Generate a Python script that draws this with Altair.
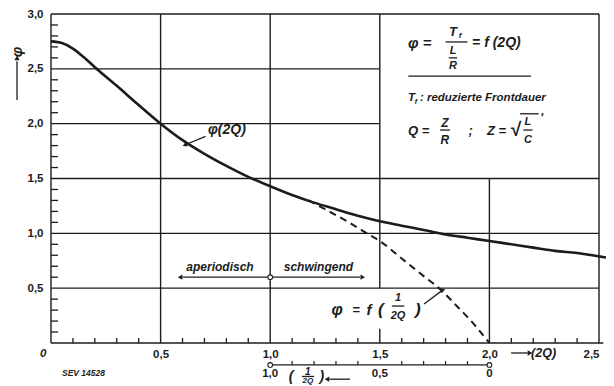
import altair as alt
import pandas as pd

DARK = "#1c1c1c"
FONT = "Liberation Sans"

# ---- data ----
q2_x = [0, 0.05, 0.1, 0.15, 0.2, 0.3, 0.4, 0.5, 0.6, 0.7, 0.8, 0.9, 1.0, 1.1, 1.2,
        1.3, 1.4, 1.5, 1.6, 1.7, 1.8, 1.9, 2.0, 2.1, 2.2, 2.3, 2.4, 2.5, 2.56]
phi_y = [2.75, 2.735, 2.685, 2.605, 2.515, 2.345, 2.17, 2.0, 1.85, 1.725, 1.615, 1.515, 1.43,
         1.35, 1.28, 1.22, 1.16, 1.11, 1.07, 1.03, 0.99, 0.96, 0.93, 0.90, 0.87, 0.84,
         0.82, 0.79, 0.77]

dash_x = [1.175, 1.25, 1.35, 1.45, 1.5, 1.6, 1.7, 1.77, 1.85, 1.93, 2.0]
dash_y = [1.30, 1.22, 1.11, 0.99, 0.93, 0.77, 0.61, 0.50, 0.34, 0.17, 0.0]

x_labels = [0.5, 1.0, 1.5, 2.0, 2.5]
y_labels = [0.5, 1.0, 1.5, 2.0, 2.5, 3.0]
x_minor = [round(i * 0.1, 1) for i in range(1, 25) if i % 5]
y_minor = [round(i * 0.1, 1) for i in range(1, 30) if i % 5]
sec_minor = [1.1, 1.2, 1.3, 1.4, 1.6, 1.7, 1.8, 1.9]
sec_labels = ["1,0", "0,5", "0"]
sec_label_x = [1.0, 1.5, 2.0]

# grid segments (x, x2, y, y2)
grid_x = [0, 0.5, 1.0, 1.5, 1.5, 2.0, 2.5, 0, 0, 0, 0, 0, 0, 0]
grid_x2 = [0, 0.5, 1.0, 1.5, 1.5, 2.0, 2.5, 2.52, 2.5, 2.5, 2.5, 1.5, 1.5, 2.5]
grid_y = [0, 0, 0, 0.5, 0, 0, 0, 0, 0.5, 1.0, 1.5, 2.0, 2.5, 3.0]
grid_y2 = [3, 3, 3, 3, 0.13, 1.5, 3, 0, 0.5, 1.0, 1.5, 2.0, 2.5, 3.0]

# centred texts
tc_text = ["φ", "aperiodisch", "schwingend", "T", "L", "R", "Z", "R", "√", "L", "C",
           "φ", "=", "f", "(", "1", "2Q", ")", "0", "(", "1", ")", "2Q", "f"]
tc_x = [-0.155, 0.771, 1.22, 1.834, 1.834, 1.834, 1.797, 1.797, 2.117, 2.176, 2.176,
        1.305, 1.392, 1.451, 1.505, 1.583, 1.583, 1.674, -0.036, 1.095, 1.172, 1.236, 1.172, 1.866]
tc_y = [2.653, 0.693, 0.693, 2.836, 2.665, 2.526, 2.006, 1.851, 1.94, 2.015, 1.851,
        0.30, 0.30, 0.30, 0.30, 0.41, 0.246, 0.30, -0.10, -0.31, -0.262, -0.31, -0.345, 2.80]
tc_size = [15, 12, 12, 13, 11, 11, 12, 12, 19, 11, 11,
           16, 13, 15, 17, 11, 11, 17, 11.5, 14, 10, 14, 8, 8]
tc_angle = [270] + [0] * 23

# left aligned texts
tl_text = ["φ  =", "=  f (2Q)", "T", "f", ": reduzierte Frontdauer", "Q  =", ";", "Z  =", "'",
           "φ(2Q)", "(2Q)", "SEV 14528"]
tl_x = [1.629, 1.921, 1.629, 1.66, 1.683, 1.629, 1.905, 1.989, 2.232, 0.716, 2.19, 0.05]
tl_y = [2.735, 2.735, 2.234, 2.20, 2.234, 1.933, 1.933, 1.933, 2.05, 1.942, -0.091, -0.27]
tl_size = [15, 14, 11.5, 7, 11.5, 13, 13, 13, 12, 14, 12.5, 8.5]

# thin lines: fraction bars, separator, arrow shafts, secondary axis
ln_x = [1.80, 1.815, 1.63, 1.775, 2.155, 2.14, 1.555, 1.145,
        0.60, 1.0, 0.705, 1.702, 2.099, 1.364, 1.0, -0.155]
ln_x2 = [1.90, 1.853, 2.19, 1.82, 2.197, 2.225, 1.612, 1.200,
         1.0, 1.41, 0.615, 1.785, 2.175, 1.27, 2.0, -0.155]
ln_y = [2.745, 2.60, 2.434, 1.942, 1.942, 2.09, 0.337, -0.305,
        0.6, 0.6, 1.885, 0.356, -0.091, -0.33, -0.2, 2.216]
ln_y2 = [2.745, 2.60, 2.434, 1.942, 1.942, 2.09, 0.337, -0.305,
         0.6, 0.6, 1.81, 0.48, -0.091, -0.33, -0.2, 2.57]

# arrow heads
ah_x = [0.589, 1.422, -0.155, 0.61, 1.788, 2.185, 1.259]
ah_y = [0.6, 0.6, 2.60, 1.805, 0.483, -0.091, -0.33]
ah_angle = [270, 90, 0, 247, 72, 90, 270]

circ_x = [1.0, 2.0, 1.0]
circ_y = [-0.2, -0.2, 0.6]

# ---- build chart ----
xs = alt.Scale(domain=[0, 2.5], nice=False, zero=False)
ys = alt.Scale(domain=[0, 3], nice=False, zero=False)

lab = "replace(format(datum.value, '.1f'), '.', ',')"
x_axis = alt.Axis(values=x_labels, labelExpr=lab, ticks=False, domain=False, grid=False,
                  labelPadding=5, labelFontSize=11.5, labelFont=FONT, labelFontWeight="bold",
                  labelColor=DARK, title=None)
y_axis = alt.Axis(values=y_labels, labelExpr=lab, ticks=False, domain=False, grid=False,
                  labelPadding=8, labelFontSize=11.5, labelFont=FONT, labelFontWeight="bold",
                  labelColor=DARK, title=None)


def X(f):
    return alt.X(f, type="quantitative", scale=xs, axis=x_axis)


def Y(f):
    return alt.Y(f, type="quantitative", scale=ys, axis=y_axis)


grid_df = pd.DataFrame({"x": grid_x, "x2": grid_x2, "y": grid_y, "y2": grid_y2})
grid = alt.Chart(grid_df).mark_rule(color=DARK, strokeWidth=1.4).encode(
    x=X("x"), x2="x2", y=Y("y"), y2="y2")

xt_df = pd.DataFrame({"x": x_minor, "y": [0] * len(x_minor), "y2": [0.045] * len(x_minor)})
xticks = alt.Chart(xt_df).mark_rule(color=DARK, strokeWidth=1.3).encode(
    x=X("x"), y=Y("y"), y2="y2")

yt_df = pd.DataFrame({"y": y_minor, "x": [0] * len(y_minor), "x2": [0.032] * len(y_minor)})
yticks = alt.Chart(yt_df).mark_rule(color=DARK, strokeWidth=1.3).encode(
    x=X("x"), x2="x2", y=Y("y"))

st_df = pd.DataFrame({"x": sec_minor, "y": [-0.2] * len(sec_minor), "y2": [-0.165] * len(sec_minor)})
sticks = alt.Chart(st_df).mark_rule(color=DARK, strokeWidth=1.2).encode(
    x=X("x"), y=Y("y"), y2="y2")

curve = alt.Chart(pd.DataFrame({"x": q2_x, "y": phi_y})).mark_line(
    color=DARK, strokeWidth=2.6, interpolate="monotone", clip=False).encode(
    x=X("x"), y=Y("y"))

dashed = alt.Chart(pd.DataFrame({"x": dash_x, "y": dash_y})).mark_line(
    color=DARK, strokeWidth=2.0, strokeDash=[7, 5], interpolate="monotone").encode(
    x=X("x"), y=Y("y"))

ln_df = pd.DataFrame({"x": ln_x, "x2": ln_x2, "y": ln_y, "y2": ln_y2})
lines = alt.Chart(ln_df).mark_rule(color=DARK, strokeWidth=1.3).encode(
    x=X("x"), x2="x2", y=Y("y"), y2="y2")

ah_df = pd.DataFrame({"x": ah_x, "y": ah_y, "a": ah_angle})
heads = alt.Chart(ah_df).mark_point(shape="triangle-up", filled=True, color=DARK,
                                    size=28, opacity=1).encode(
    x=X("x"), y=Y("y"), angle=alt.Angle("a:Q", scale=None))

circ_df = pd.DataFrame({"x": circ_x, "y": circ_y})
circles = alt.Chart(circ_df).mark_point(shape="circle", filled=True, fill="white",
                                        stroke=DARK, strokeWidth=1.1, size=22, opacity=1).encode(
    x=X("x"), y=Y("y"))

tc_df = pd.DataFrame({"x": tc_x, "y": tc_y, "t": tc_text, "s": tc_size, "a": tc_angle})
tcent = alt.Chart(tc_df).mark_text(font=FONT, fontWeight="bold", fontStyle="italic",
                                   color=DARK, align="center", baseline="middle").encode(
    x=X("x"), y=Y("y"), text="t:N",
    size=alt.Size("s:Q", scale=None), angle=alt.Angle("a:Q", scale=None))

tl_df = pd.DataFrame({"x": tl_x, "y": tl_y, "t": tl_text, "s": tl_size})
tleft = alt.Chart(tl_df).mark_text(font=FONT, fontWeight="bold", fontStyle="italic",
                                   color=DARK, align="left", baseline="middle").encode(
    x=X("x"), y=Y("y"), text="t:N",
    size=alt.Size("s:Q", scale=None))

sl_df = pd.DataFrame({"x": sec_label_x, "y": [-0.28] * 3, "t": sec_labels})
slabels = alt.Chart(sl_df).mark_text(font=FONT, fontWeight="bold", color=DARK,
                                     fontSize=11.5, align="center", baseline="middle").encode(
    x=X("x"), y=Y("y"), text="t:N")

chart = alt.layer(grid, xticks, yticks, sticks, curve, dashed, lines, heads,
                  tcent, tleft, slabels, circles).properties(
    width=548, height=329,
    padding={"left": 43, "top": 6, "right": 7, "bottom": 43},
    autosize=alt.AutoSizeParams(type="none"),
    background="white",
).configure_view(stroke=None)

chart.save("out.html", embed_options={"renderer": "svg", "actions": False})
